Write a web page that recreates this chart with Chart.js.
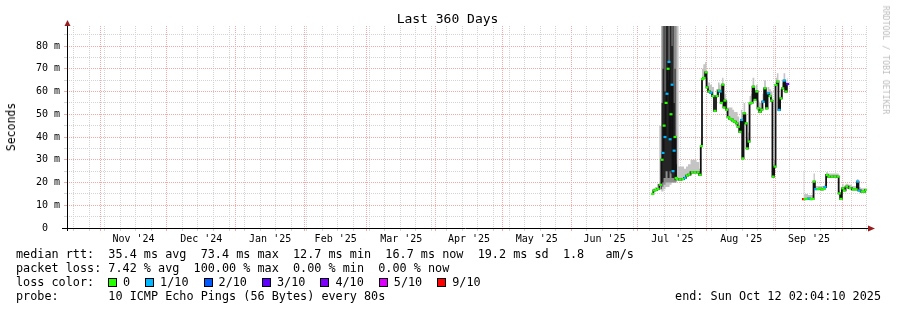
<!DOCTYPE html>
<html>
<head>
<meta charset="utf-8">
<title>Last 360 Days</title>
<script src="https://cdn.jsdelivr.net/npm/chart.js@4.4.0/dist/chart.umd.min.js"></script>
<style>
  html, body { margin: 0; padding: 0; background: #fff; }
  #wrap { position: relative; width: 897px; height: 310px; overflow: hidden; font-family: 'DejaVu Sans Mono', monospace; color: #000; }
  #chart { position: absolute; left: 0; top: 0; }
  .txt { position: absolute; white-space: pre; line-height: 14px; font-size: 11.8px; }
  #title { position: absolute; left: 0; width: 895px; top: 11px; text-align: center; font-size: 13px; line-height: 16px; }
  #ylabel { position: absolute; left: 11px; top: 127px; font-size: 11.5px; transform: translate(-50%, -50%) rotate(-90deg); white-space: nowrap; }
  #mark { position: absolute; left: 886px; top: 60px; font-size: 8.2px; color: #bdbdbd; transform: translate(-50%, -50%) rotate(90deg); white-space: nowrap; }
  .box { display: inline-block; width: 7px; height: 7px; border: 1px solid #000; margin-right: 6px; vertical-align: -1px; }
  .item { margin-right: 15px; }
</style>
</head>
<body>
<div id="wrap">
  <canvas id="chart" width="897" height="310"></canvas>
  <div id="title">Last 360 Days</div>
  <div id="ylabel">Seconds</div>
  <div id="mark">RRDTOOL / TOBI OETIKER</div>
  <div class="txt" style="left:16px; top:247px">median rtt:  35.4 ms avg  73.4 ms max  12.7 ms min  16.7 ms now  19.2 ms sd  1.8   am/s
packet loss: 7.42 % avg  100.00 % max  0.00 % min  0.00 % now
loss color:
probe:       10 ICMP Echo Pings (56 Bytes) every 80s</div>
  <div class="txt" id="lossLegend" style="left:108px; top:275px"></div>
  <div class="txt" style="right:16px; top:289px">end: Sun Oct 12 02:04:10 2025</div>
</div>
<script>
// x axis = days since start of the 360 day window (Oct 17 2024 02:04)
const monthStarts = [14.91, 44.91, 75.91, 106.91, 134.91, 165.91, 195.91, 226.91, 256.91, 287.91, 318.91, 348.91];
const monthLabels = ["Nov '24", "Dec '24", "Jan '25", "Feb '25", "Mar '25", "Apr '25", "May '25", "Jun '25", "Jul '25", "Aug '25", "Sep '25"];
const firstWeek = 2.91;
const yTickValues = [0, 10, 20, 30, 40, 50, 60, 70, 80];
const yTickLabels = ['0  ', '10 m', '20 m', '30 m', '40 m', '50 m', '60 m', '70 m', '80 m'];

const lossLevels = [0, 1, 2, 3, 4, 5, 9];
const lossNames = ['0', '1/10', '2/10', '3/10', '4/10', '5/10', '9/10'];
const lossColors = ['#26ff00', '#00b8ff', '#0059ff', '#5e00ff', '#7e00ff', '#dd00ff', '#ff0000'];

const days = [
    263.5, 264.2, 265.1, 266.0, 267.1, 267.8, 268.2, 268.7, 269.1, 269.6, 270.0, 270.5, 270.9, 271.4, 271.8, 272.3, 272.7, 273.2, 273.6, 274.1,
    274.5, 275.9, 277.2, 278.1, 279.0, 279.9, 281.3, 282.6, 284.0, 284.9,
    285.5, 286.0, 286.7, 287.6, 288.0, 288.9, 289.8, 290.7, 291.6, 292.5, 293.4, 293.9, 294.5, 295.1, 295.7, 296.1, 296.9, 297.6, 298.4, 299.1,
    299.8, 300.6, 301.4, 302.1, 302.9, 303.6, 304.1, 304.8, 305.6, 306.1, 306.9, 307.4, 308.1, 308.9, 309.6, 310.4, 311.1, 311.9, 312.6, 313.3,
    314.1, 314.9, 315.6, 316.4, 317.1, 317.8, 318.6, 319.1, 319.8, 320.5, 321.3, 322.1, 322.8, 323.6, 324.3,
    325.0,
    331.4, 332.1, 333.0, 333.9, 334.8, 335.7, 336.2, 336.9, 338.0, 338.9, 339.8, 340.7, 341.1, 342.1, 342.9, 344.3, 345.6, 347.0, 347.5, 348.3,
    349.1, 349.8, 350.9, 352.4, 353.9, 355.1, 355.8, 356.5, 357.8, 358.7, 359.6
];
// median rtt, ms
const median = [
    15.0, 16.5, 16.8, 17.2, 19.0, 30.0, 33.0, 45.0, 40.0, 55.0, 59.0, 70.0, 73.0, 39.0, 50.0, 63.0, 25.0, 34.0, 40.0, 22.0,
    21.5, 21.3, 21.5, 22.0, 23.0, 23.5, 24.5, 24.5, 24.5, 23.4,
    36.0, 65.5, 66.0, 68.4, 61.8, 60.0, 59.5, 58.0, 51.5, 58.0, 60.4, 60.0, 55.0, 63.0, 53.0, 56.0, 52.0, 48.7, 48.0, 47.8,
    47.0, 46.7, 46.0, 44.5, 42.3, 47.5, 30.6, 50.4, 46.0, 35.0, 38.0, 54.8, 55.0, 62.1, 56.3, 60.0, 52.6, 51.1, 52.0, 55.5,
    61.4, 52.6, 59.2, 58.0, 56.0, 22.6, 27.0, 62.9, 64.3, 51.9, 57.0, 61.4, 64.8, 60.0, 63.3,
    null,
    12.7, 12.7, 12.8, 12.9, 12.7, 12.8, 20.4, 17.1, 17.1, 17.3, 17.0, 17.2, 18.0, 23.3, 22.6, 22.6, 22.7, 22.6, 15.2, 12.8,
    17.4, 16.5, 18.2, 17.5, 17.0, 17.0, 20.4, 16.5, 16.0, 16.0, 16.7
];
// packet loss, pings out of 10
const loss = [
    0, 0, 0, 0, 0, 0, 1, 0, 1, 0, 1, 0, 1, 1, 0, 1, 1, 1, 0, 0,
    0, 0, 0, 1, 0, 0, 0, 0, 0, 0,
    0, 0, 0, 0, 0, 0, 1, 0, 0, 0, 0, 1, 0, 0, 0, 0, 0, 0, 0, 0,
    0, 0, 0, 0, 0, 1, 0, 0, 0, 0, 0, 0, 0, 0, 0, 0, 0, 0, 0, 1,
    0, 0, 1, 0, 0, 0, 0, 0, 0, 1, 0, 0, 1, 0, 3,
    null,
    9, 0, 0, 1, 0, 0, 0, 1, 0, 0, 0, 0, 1, 0, 0, 0, 0, 0, 0, 0,
    0, 0, 0, 0, 0, 0, 1, 1, 0, 0, 0
];
// smoke (spread of the 10 pings), ms
const smokeLo = [
    14.6, 15.8, 16.0, 16.5, 17.0, 16.0, 16.0, 17.0, 17.0, 18.0, 18.0, 18.0, 18.0, 19.0, 19.0, 20.0, 20.0, 20.0, 20.0, 20.5,
    21.0, 21.0, 21.0, 21.5, 22.5, 23.0, 23.8, 23.8, 23.8, 22.8,
    35.4, 64.9, 65.4, 67.8, 61.2, 59.4, 58.9, 57.4, 50.9, 57.4, 59.8, 59.4, 54.4, 62.4, 52.4, 55.4, 51.4, 48.1, 47.4, 47.2,
    46.4, 46.1, 45.4, 43.9, 41.7, 46.9, 30.0, 49.8, 45.4, 34.4, 37.4, 54.2, 54.4, 61.5, 55.7, 59.4, 52.0, 50.5, 51.4, 54.9,
    60.8, 52.0, 58.6, 57.4, 55.4, 22.0, 26.4, 62.3, 63.7, 51.3, 56.4, 60.8, 64.2, 59.4, 62.7,
    null,
    12.2, 12.2, 12.3, 12.4, 12.2, 12.3, 16.6, 16.6, 16.6, 16.8, 16.5, 16.7, 17.5, 22.0, 22.0, 22.0, 22.1, 22.0, 14.7, 12.3,
    16.9, 16.0, 17.7, 17.0, 16.5, 16.5, 16.0, 16.0, 15.5, 15.5, 16.2
];
const smokeHi = [
    15.5, 17.5, 18.0, 19.5, 45, 100, 100, 100, 100, 100, 100, 100, 100, 100, 100, 100, 100, 100, 100, 100,
    100, 27, 27, 26, 27, 28, 30, 30, 29, 26,
    40, 70, 72, 73, 66, 64, 63, 62, 56, 61, 64, 63, 60, 66, 57, 59, 56, 53, 53, 53,
    52, 51, 51, 49, 47, 52, 36, 55, 50, 40, 42, 58, 59, 66, 60, 63, 56, 55, 56, 59,
    65, 56, 62, 61, 60, 26, 30, 66, 68, 56, 61, 64, 68, 64, 66,
    null,
    25, 15, 15, 14.5, 14.5, 14.5, 24, 18.5, 18.5, 18.5, 18.5, 18.5, 19.5, 24.5, 24, 24, 24, 24, 16.5, 14,
    19.5, 18, 19.5, 19, 18.5, 18.5, 21.5, 18, 17.5, 17.5, 17.5
];
// the early July spike: middle and dense core of the smoke
const spikeDays = [267.3, 267.8, 268.2, 268.7, 269.1, 269.6, 270.0, 270.5, 270.9, 271.4, 271.8, 272.3, 272.7, 273.2, 273.6, 274.1, 274.5];
const spikeMidLo = [17, 18, 18, 19, 19, 20, 20, 20, 20, 20, 20, 20, 20, 20, 20, 20, 21];
const spikeMidHi = [30, 100, 100, 100, 100, 100, 100, 100, 100, 100, 100, 100, 100, 100, 100, 100, 30];
const spikeLo = [17, 20, 20, 22, 22, 25, 25, 22, 22, 25, 24, 22, 22, 22, 21, 21, 21];
const spikeHi = [25, 55, 70, 100, 60, 100, 100, 100, 65, 100, 100, 80, 100, 55, 70, 40, 28];

function pts(xs, ys) {
    return xs.map((x, i) => ({x: x, y: ys[i]}));
}
function lossColor(v) {
    let i = lossLevels.indexOf(v);
    return i < 0 ? 'rgba(0,0,0,0)' : lossColors[i];
}

function buildLossLegend() {
    let el = document.getElementById('lossLegend');
    lossNames.forEach((name, i) => {
        let item = document.createElement('span');
        item.className = 'item';
        item.innerHTML = `<span class="box" style="background:${lossColors[i]}"></span>${name}`;
        el.appendChild(item);
    });
}

function buildXTicks(scale) {
    let ticks = [];
    for (let d = firstWeek; d < 360; d += 7) ticks.push({value: d, kind: 'week'});
    monthStarts.forEach(d => ticks.push({value: d, kind: 'month'}));
    monthLabels.forEach((t, i) => {
        ticks.push({value: (monthStarts[i] + monthStarts[i + 1]) / 2, kind: 'label', text: t});
    });
    ticks.sort((a, b) => a.value - b.value);
    scale.ticks = ticks;
}
function buildYTicks(scale) {
    let ticks = [];
    for (let v = 5; v < 88.8; v += 5) {
        let i = yTickValues.indexOf(v);
        ticks.push({value: v, kind: i < 0 ? 'minor' : 'major', text: i < 0 ? '' : yTickLabels[i]});
    }
    ticks.unshift({value: 0, kind: 'zero', text: yTickLabels[0]});
    scale.ticks = ticks;
}

const MAJOR = 'rgb(244, 168, 168)';
const MINOR = 'rgb(212, 212, 212)';
function gridColor(ctx) {
    let t = ctx.tick;
    if (!t) return MINOR;
    if (t.kind === 'month' || t.kind === 'major') return MAJOR;
    if (t.kind === 'week' || t.kind === 'minor') return MINOR;
    return 'rgba(0,0,0,0)';
}

const axisArrows = {
    id: 'axisArrows',
    afterDatasetsDraw(chart) {
        const {ctx, chartArea: a} = chart;
        ctx.save();
        ctx.strokeStyle = '#000';
        ctx.lineWidth = 1;
        ctx.beginPath();
        ctx.moveTo(62, a.bottom + 0.5);
        ctx.lineTo(a.right + 2, a.bottom + 0.5);
        ctx.moveTo(a.left + 0.5, a.bottom + 3);
        ctx.lineTo(a.left + 0.5, a.top - 1);
        ctx.stroke();
        ctx.fillStyle = '#961e1e';
        ctx.beginPath();
        ctx.moveTo(a.right + 1, a.bottom - 2.5);
        ctx.lineTo(a.right + 8, a.bottom + 0.5);
        ctx.lineTo(a.right + 1, a.bottom + 3.5);
        ctx.closePath();
        ctx.fill();
        ctx.beginPath();
        ctx.moveTo(a.left - 2.5, a.top);
        ctx.lineTo(a.left + 0.5, a.top - 6);
        ctx.lineTo(a.left + 3.5, a.top);
        ctx.closePath();
        ctx.fill();
        ctx.restore();
    }
};

Chart.defaults.font.family = "'DejaVu Sans Mono', monospace";
Chart.defaults.font.size = 10;
Chart.defaults.color = '#000';

buildLossLegend();

const band = {borderWidth: 0, pointRadius: 0, stepped: 'middle'};

new Chart(document.getElementById('chart'), {
    type: 'line',
    data: {
        datasets: [
            {...band, data: pts(days, smokeHi), order: 9, fill: false},
            {...band, data: pts(days, smokeLo), order: 8, fill: '-1', backgroundColor: '#c4c4c4'},
            {...band, data: pts(spikeDays, spikeMidHi), order: 7, fill: false},
            {...band, data: pts(spikeDays, spikeMidLo), order: 6, fill: '-1', backgroundColor: '#8e8e8e'},
            {...band, data: pts(spikeDays, spikeHi), order: 5, fill: false},
            {...band, data: pts(spikeDays, spikeLo), order: 4, fill: '-1', backgroundColor: 'rgba(25, 25, 25, 0.9)'},
            {
                data: pts(days, median), order: 1, borderColor: '#111', borderWidth: 1.8, pointRadius: 0,
                stepped: 'middle', fill: false
            },
            {
                data: pts(days, median), order: 0, showLine: false, pointStyle: 'line',
                pointRadius: 1.5, pointBorderWidth: 2.2,
                pointBorderColor: ctx => lossColor(loss[ctx.dataIndex])
            }
        ]
    },
    options: {
        responsive: false,
        animation: false,
        events: [],
        layout: { padding: { left: 0, right: 30, top: 26, bottom: 0 } },
        plugins: { legend: { display: false }, tooltip: { enabled: false } },
        scales: {
            x: {
                type: 'linear', min: 0, max: 360,
                afterBuildTicks: buildXTicks,
                afterFit: s => { s.height = 82; },
                grid: { color: gridColor, tickLength: 3, drawTicks: true },
                border: { display: false, dash: [1, 1] },
                ticks: {
                    autoSkip: false, maxRotation: 0, minRotation: 0, padding: 2,
                    callback: (v, i, ticks) => ticks[i].text || ''
                }
            },
            y: {
                min: 0, max: 88.8,
                afterBuildTicks: buildYTicks,
                afterFit: s => { s.width = 67; },
                grid: { color: gridColor, tickLength: 3, drawTicks: true },
                border: { display: false, dash: [1, 1] },
                ticks: {
                    autoSkip: false, padding: 4,
                    callback: (v, i, ticks) => ticks[i].text || ''
                }
            }
        }
    },
    plugins: [axisArrows]
});
</script>
</body>
</html>
